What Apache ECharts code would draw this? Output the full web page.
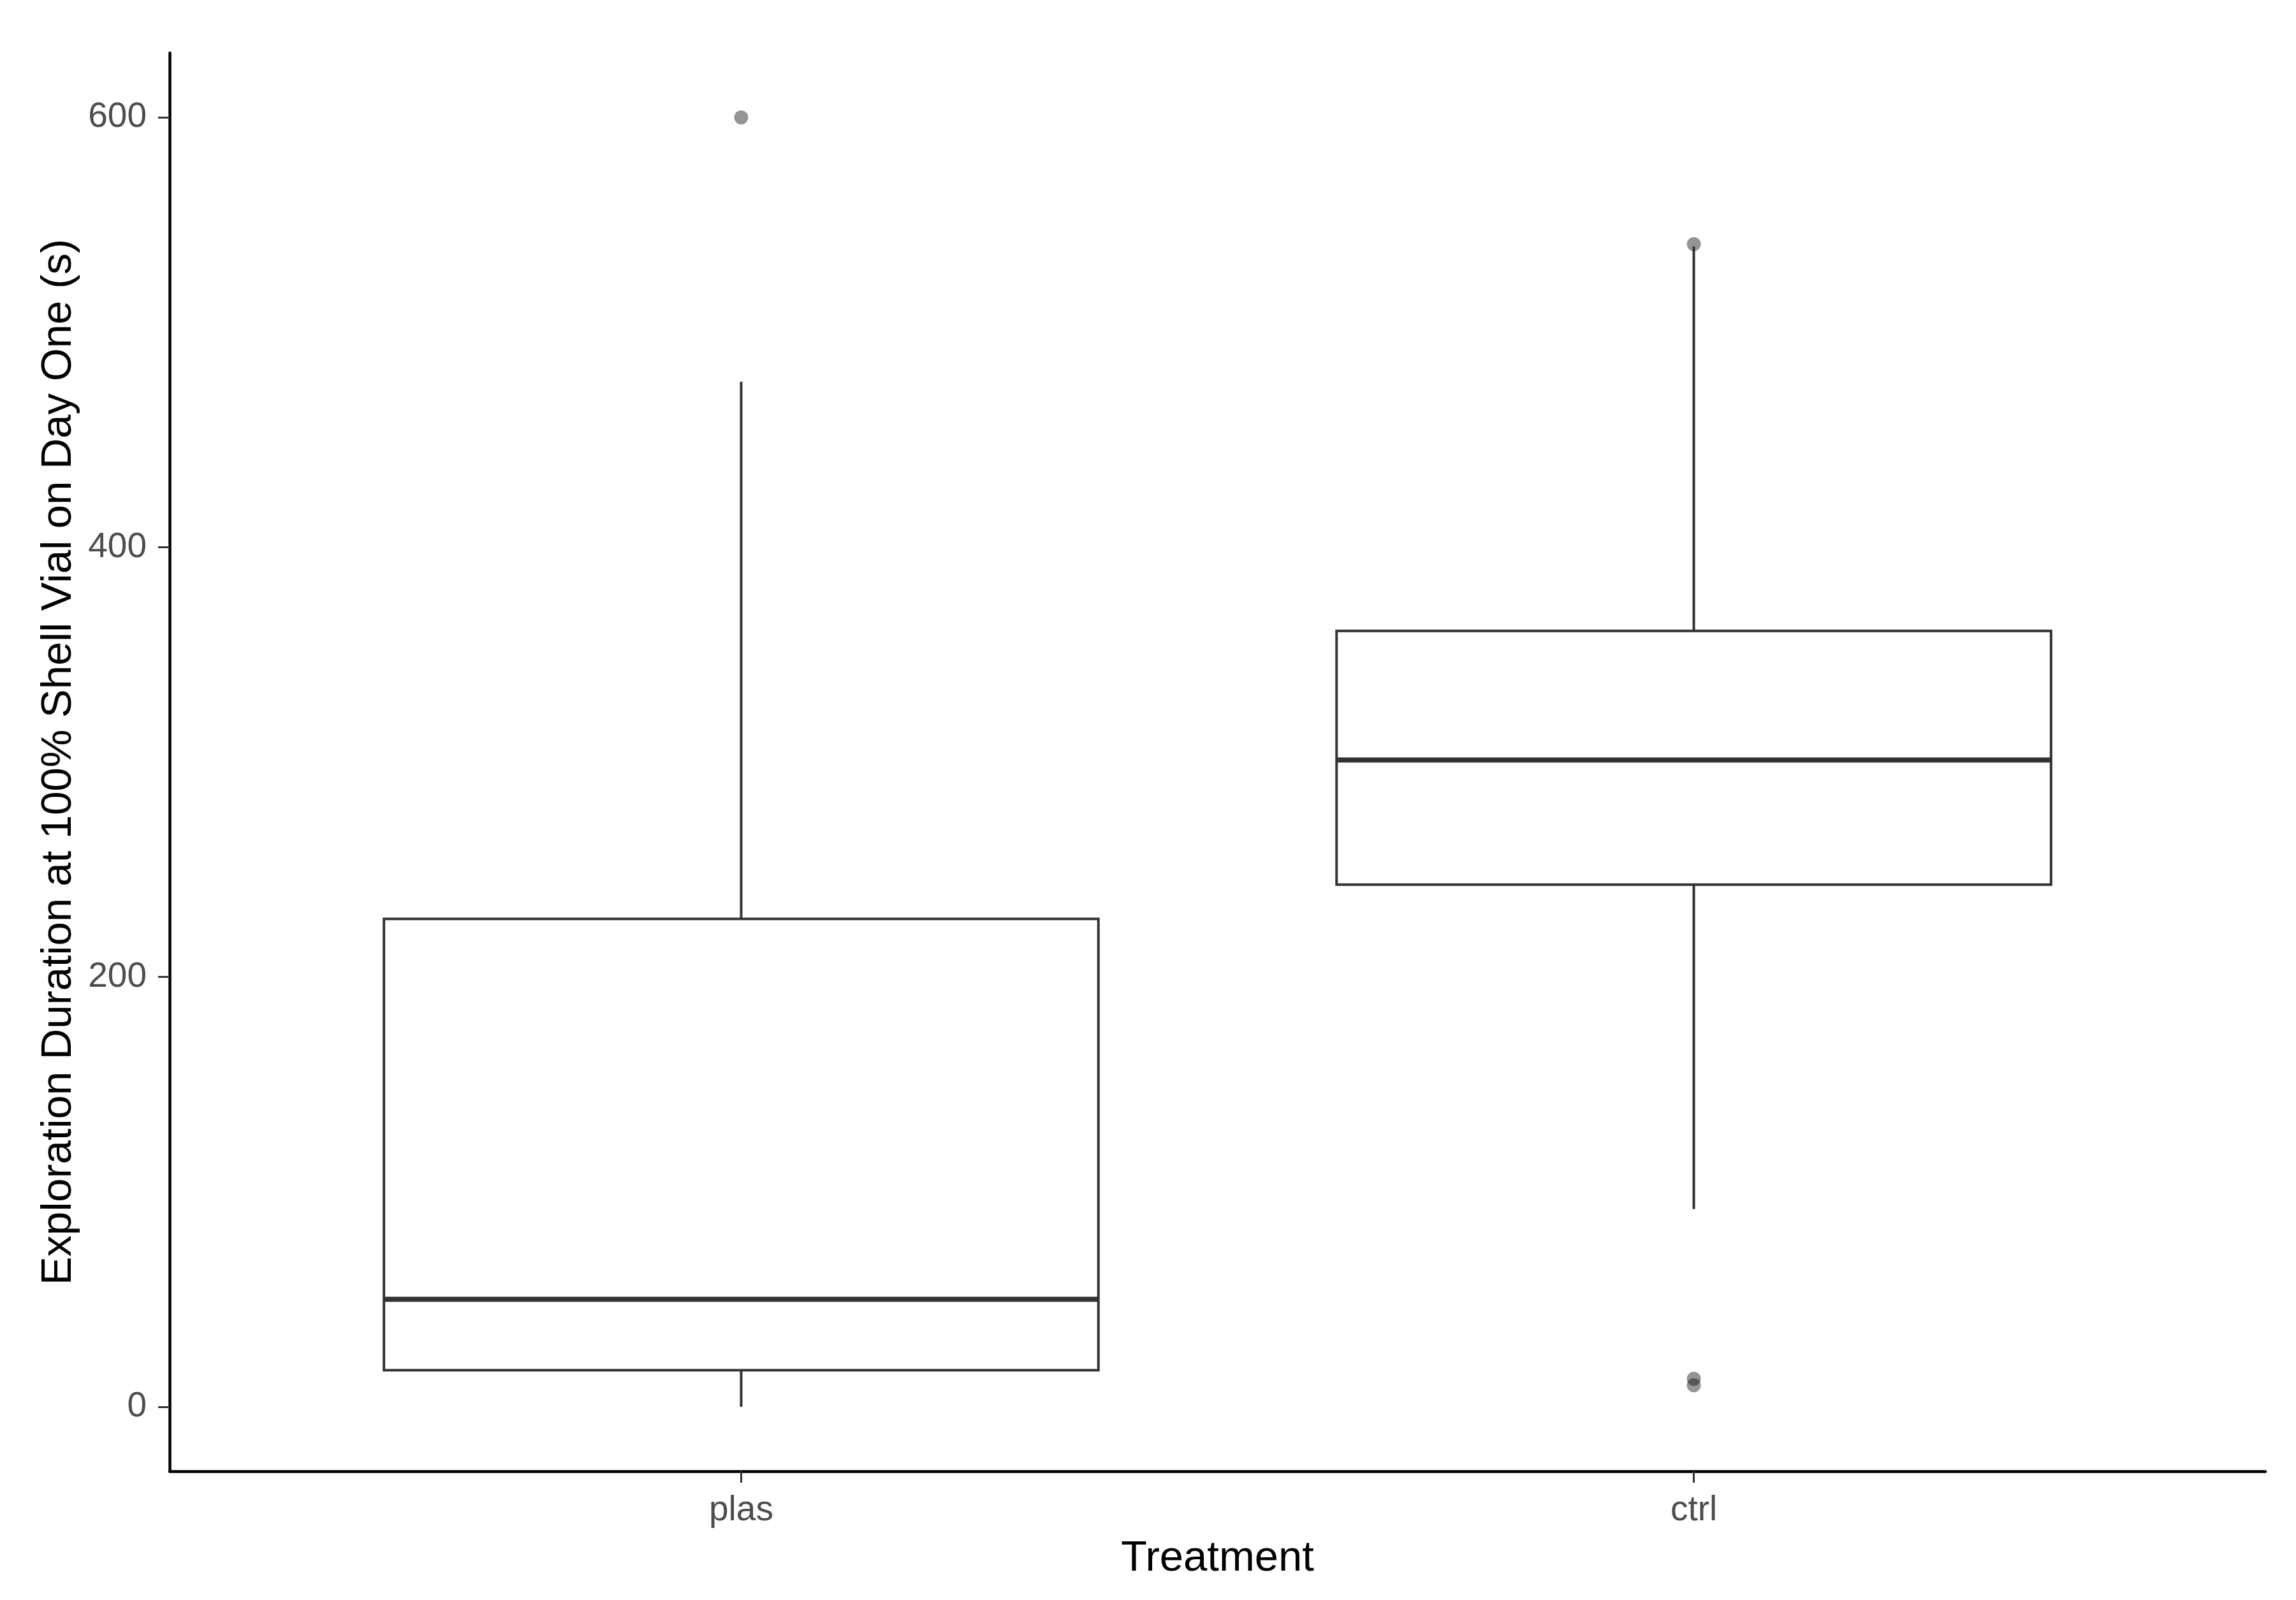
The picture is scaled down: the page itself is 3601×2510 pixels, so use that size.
<!DOCTYPE html>
<html>
<head>
<meta charset="utf-8">
<title>Exploration Duration</title>
<script src="https://cdn.jsdelivr.net/npm/echarts@6/dist/echarts.min.js"></script>
<style>
  html, body { margin: 0; padding: 0; background: #fff; }
  #chartBox { width: 3601px; height: 2510px; }
</style>
</head>
<body>
<div id="chartBox"></div>
<script>
// box statistics (seconds)
var categories = ["plas", "ctrl"];
var whiskerLow = [0, 92];
var lowerQuartile = [17, 243];
var median = [50, 301];
var upperQuartile = [227, 361];
var whiskerHigh = [477, 540];

// outlier points
var outlierGroup = ["plas", "ctrl", "ctrl", "ctrl"];
var outlierValue = [600, 541, 13, 10];

var yTicks = [0, 200, 400, 600];
var xTicks = [1, 2];

var boxData = [];
for (var i = 0; i < categories.length; i++) {
  boxData.push([i + 1, whiskerLow[i], lowerQuartile[i], median[i], upperQuartile[i], whiskerHigh[i]]);
}
var outlierData = [];
for (var j = 0; j < outlierGroup.length; j++) {
  outlierData.push([categories.indexOf(outlierGroup[j]) + 1, outlierValue[j]]);
}

var lineColor = "#333333";

function renderBox(params, api) {
  var x = api.value(0);
  var low = api.coord([x, api.value(1)]);
  var q1 = api.coord([x, api.value(2)]);
  var med = api.coord([x, api.value(3)]);
  var q3 = api.coord([x, api.value(4)]);
  var high = api.coord([x, api.value(5)]);
  var half = api.size([0.75, 0])[0] / 2;
  var cx = low[0];
  var lineStyle = { stroke: lineColor, lineWidth: 4 };
  return {
    type: "group",
    children: [
      { type: "line", shape: { x1: cx, y1: low[1], x2: cx, y2: q1[1] }, style: lineStyle },
      { type: "line", shape: { x1: cx, y1: q3[1], x2: cx, y2: high[1] }, style: lineStyle },
      {
        type: "rect",
        shape: { x: cx - half, y: q3[1], width: half * 2, height: q1[1] - q3[1] },
        style: { fill: "#ffffff", stroke: lineColor, lineWidth: 4 }
      },
      {
        type: "line",
        shape: { x1: cx - half, y1: med[1], x2: cx + half, y2: med[1] },
        style: { stroke: lineColor, lineWidth: 8 }
      }
    ]
  };
}

var chart = echarts.init(document.getElementById("chartBox"));

var option = {
  backgroundColor: "#ffffff",
  animation: false,
  textStyle: { fontFamily: "Liberation Sans, Arial, sans-serif" },
  grid: {
    left: 266,
    right: 48,
    top: 83,
    bottom: 202,
    containLabel: false,
    outerBoundsMode: "none"
  },
  xAxis: {
    type: "value",
    min: 0.4,
    max: 2.6,
    name: "Treatment",
    nameLocation: "middle",
    nameGap: 104,
    nameTextStyle: { fontSize: 67, color: "#000000" },
    splitLine: { show: false },
    axisLine: { onZero: false, lineStyle: { color: "#000000", width: 4.5 } },
    axisTick: { length: 18, lineStyle: { color: lineColor, width: 3 }, customValues: xTicks },
    axisLabel: {
      fontSize: 55,
      color: "#4D4D4D",
      margin: 34,
      customValues: xTicks,
      formatter: function (v) { return categories[Math.round(v) - 1]; }
    }
  },
  yAxis: {
    type: "value",
    min: -30,
    max: 630,
    name: "Exploration Duration at 100% Shell Vial on Day One (s)",
    nameLocation: "middle",
    nameGap: 140,
    nameTextStyle: { fontSize: 67, color: "#000000" },
    splitLine: { show: false },
    axisLine: { show: true, onZero: false, lineStyle: { color: "#000000", width: 4.5 } },
    axisTick: { show: true, length: 18, lineStyle: { color: lineColor, width: 3 }, customValues: yTicks },
    axisLabel: { fontSize: 55, color: "#4D4D4D", margin: 36, customValues: yTicks }
  },
  series: [
    {
      type: "scatter",
      data: outlierData,
      symbol: "circle",
      symbolSize: 22,
      z: 1,
      itemStyle: { color: "rgba(0,0,0,0.52)" }
    },
    {
      type: "custom",
      data: boxData,
      renderItem: renderBox,
      encode: { x: 0, y: [1, 2, 3, 4, 5] },
      z: 2
    }
  ]
};

chart.setOption(option);
</script>
</body>
</html>
